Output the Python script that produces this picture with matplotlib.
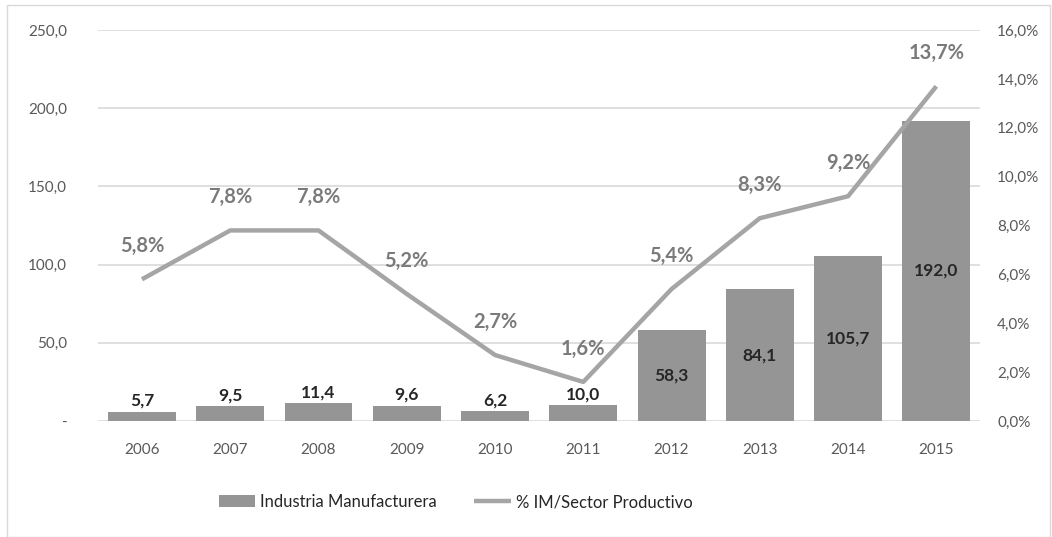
import matplotlib
matplotlib.use("Agg")
import matplotlib.pyplot as plt
from matplotlib.patches import Rectangle
from matplotlib.ticker import FuncFormatter

plt.rcParams['font.family'] = ['Lato', 'DejaVu Sans']

years = ["2006", "2007", "2008", "2009", "2010", "2011", "2012", "2013", "2014", "2015"]
industria = [5.7, 9.5, 11.4, 9.6, 6.2, 10.0, 58.3, 84.1, 105.7, 192.0]
pct_im = [5.8, 7.8, 7.8, 5.2, 2.7, 1.6, 5.4, 8.3, 9.2, 13.7]
left_ticks = [0, 50, 100, 150, 200, 250]
right_ticks = [0, 2, 4, 6, 8, 10, 12, 14, 16]

bar_color = "#959595"
line_color = "#a5a5a5"
text_gray = "#595959"

fig = plt.figure(figsize=(10.52, 5.37), dpi=100)
ax = fig.add_axes([0.093, 0.216, 0.839, 0.728])
ax2 = ax.twinx()

x = list(range(len(years)))
bars = ax.bar(x, industria, width=0.77, color=bar_color, zorder=2,
              label="Industria Manufacturera")
ax.set_xlim(-0.5, len(years) - 0.5)
ax.set_ylim(0, 250)
ax.set_yticks(left_ticks)
ax.yaxis.set_major_formatter(FuncFormatter(
    lambda v, p: "-" if v == 0 else f"{v:.1f}".replace(".", ",")))
ax.set_xticks(x)
ax.set_xticklabels(years)
ax.grid(axis="y", color="#d9d9d9", linewidth=1.2, zorder=0)
ax.set_axisbelow(True)
for s in ax.spines.values():
    s.set_visible(False)
for s in ax2.spines.values():
    s.set_visible(False)
ax.tick_params(axis="x", length=0, labelsize=11, colors=text_gray, pad=16)
ax.tick_params(axis="y", length=0, labelsize=11, colors=text_gray, pad=22)

for xi, v in zip(x, industria):
    lab = f"{v:.1f}".replace(".", ",")
    if v > 40:
        ax.text(xi, v / 2, lab, ha="center", va="center", fontsize=12.5,
                fontweight="bold", color="#262626", zorder=4)
    else:
        ax.text(xi, v + 2, lab, ha="center", va="bottom", fontsize=12.5,
                fontweight="bold", color="#262626", zorder=4)

line, = ax2.plot(x, pct_im, color=line_color, linewidth=3.2, zorder=3,
                 solid_capstyle="butt", label="% IM/Sector Productivo")
ax2.set_ylim(0, 16)
ax2.set_yticks(right_ticks)
ax2.yaxis.set_major_formatter(FuncFormatter(lambda v, p: f"{v:.1f}%".replace(".", ",")))
ax2.tick_params(axis="y", length=0, labelsize=11, colors=text_gray, pad=12)

for xi, v in zip(x, pct_im):
    ax2.annotate(f"{v:.1f}%".replace(".", ","), (xi, v), xytext=(0, 24),
                 textcoords="offset points", ha="center", va="center",
                 fontsize=14.5, color="#7a7a7a", fontweight="bold")

fig.legend([bars, line], ["Industria Manufacturera", "% IM/Sector Productivo"],
           loc="center", bbox_to_anchor=(0.433, 0.065), ncol=2, frameon=False,
           fontsize=12, handlelength=2.2, columnspacing=2.2, handletextpad=0.3,
           labelcolor="#262626")

fig.patches.append(Rectangle((7 / 1052, 0), 1 - 7 / 1052 - 0.002, 1 - 5 / 537,
                             transform=fig.transFigure, fill=False,
                             edgecolor="#d9d9d9", linewidth=1))

fig.savefig("out.png", dpi=100)
